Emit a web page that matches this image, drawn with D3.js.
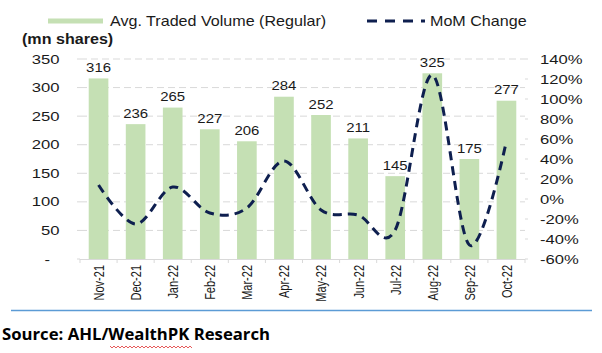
<!DOCTYPE html>
<html><head><meta charset="utf-8">
<script src="https://cdn.jsdelivr.net/npm/d3@7"></script>
<style>body{margin:0;background:#fff;}svg{display:block;}</style>
</head><body>
<svg id="c" width="602" height="353"></svg>
<script>
const months = ["Nov-21","Dec-21","Jan-22","Feb-22","Mar-22","Apr-22","May-22","Jun-22","Jul-22","Aug-22","Sep-22","Oct-22"];
const volume = [316,236,265,227,206,284,252,211,145,325,175,277];
const momChange = [14,-25,12,-14,-9,38,-11,-16,-31,124,-46,58];
const leftTicks = [0,50,100,150,200,250,300,350];
const rightTicks = [-60,-40,-20,0,20,40,60,80,100,120,140];
const legendLabels = ["Avg. Traded Volume (Regular)","MoM Change"];
const unitLabel = "(mn shares)";
const sourceLabel = "Source: AHL/WealthPK Research";

const FONT = "'Liberation Sans', Arial, sans-serif";
const svg = d3.select("#c");
const L = 80, R = 525, T = 59, B = 259;

const x = d3.scaleBand().domain(months).range([L, R]).paddingInner(0.47).paddingOuter(0.235);
const xb = d3.scaleBand().domain(months).range([L, R]);
const yL = d3.scaleLinear().domain([0, 350]).range([B, T]);
const yR = d3.scaleLinear().domain([-60, 140]).range([B, T]);

function txt(g, px, py, s, o) {
  o = o || {};
  const t = g.append("text")
    .attr("transform", `translate(${px},${py}) scale(${o.sx || 1},1)` + (o.rot ? ` rotate(${o.rot})` : ""))
    .attr("font-family", o.family || FONT)
    .attr("font-size", o.size || 12)
    .attr("font-weight", o.weight || "normal")
    .attr("fill", o.fill || "#1a1a1a")
    .attr("text-anchor", o.anchor || "start")
    .attr("dy", o.dy || "0.35em")
    .text(s);
  return t;
}

// gridlines
svg.append("g").selectAll("line").data(leftTicks.filter(d => d > 0)).join("line")
  .attr("x1", L).attr("x2", R).attr("y1", d => yL(d)).attr("y2", d => yL(d))
  .attr("stroke", "#d9d9d9").attr("stroke-width", 1).attr("stroke-dasharray", "7,4");

// left ticks & labels
const gl = svg.append("g");
gl.selectAll("line").data(leftTicks).join("line")
  .attr("x1", L - 3).attr("x2", L).attr("y1", d => yL(d)).attr("y2", d => yL(d))
  .attr("stroke", "#d9d9d9");
leftTicks.forEach(d => {
  if (d === 0) txt(gl, 50, yL(d), "-", {anchor: "end", sx: 1.28, size: 13});
  else txt(gl, 59.5, yL(d), String(d), {anchor: "end", sx: 1.28, size: 13});
});

// right ticks & labels
const gr = svg.append("g");
gr.selectAll("line").data(rightTicks).join("line")
  .attr("x1", R).attr("x2", R + 3).attr("y1", d => yR(d)).attr("y2", d => yR(d))
  .attr("stroke", "#d9d9d9");
rightTicks.forEach(d => txt(gr, 540, yR(d), d + "%", {sx: 1.28, size: 13}));

// bars
svg.append("g").selectAll("rect").data(months).join("rect")
  .attr("x", d => x(d)).attr("width", x.bandwidth())
  .attr("y", (d, i) => yL(volume[i])).attr("height", (d, i) => B - yL(volume[i]))
  .attr("fill", "#c5e0b4");

// x axis
const gx = svg.append("g");
gx.append("line").attr("x1", L).attr("x2", R).attr("y1", B + 0.5).attr("y2", B + 0.5).attr("stroke", "#d9d9d9");
gx.selectAll("line.tk").data(months.concat(["__end"])).join("line").attr("class", "tk")
  .attr("x1", (d, i) => i < months.length ? xb(d) : R).attr("x2", (d, i) => i < months.length ? xb(d) : R)
  .attr("y1", B).attr("y2", B + 4).attr("stroke", "#d9d9d9");
months.forEach(m => txt(gx, xb(m) + xb.bandwidth() / 2, 265, m, {anchor: "end", rot: -90, sx: 1.4, size: 11}));

// data labels
const gd = svg.append("g");
months.forEach((m, i) => txt(gd, x(m) + x.bandwidth() / 2, yL(volume[i]) - 11, String(volume[i]), {anchor: "middle", sx: 1.15, size: 13}));

// line
const line = d3.line()
  .x((d, i) => x(months[i]) + x.bandwidth() / 2)
  .y(d => yR(d))
  .curve(d3.curveCardinal.tension(0));
svg.append("path").datum(momChange).attr("d", line)
  .attr("fill", "none").attr("stroke", "#0e1f4f").attr("stroke-width", 3)
  .attr("stroke-dasharray", "9,6");

// legend
const lg = svg.append("g");
const ly = 21;
lg.append("rect").attr("x", 48).attr("y", ly - 2.5).attr("width", 55).attr("height", 5).attr("fill", "#c5e0b4");
txt(lg, 110, ly, legendLabels[0], {size: 14, sx: 1.15});
lg.append("line").attr("x1", 367).attr("x2", 425).attr("y1", ly).attr("y2", ly)
  .attr("stroke", "#0e1f4f").attr("stroke-width", 3).attr("stroke-dasharray", "10,8");
txt(lg, 430, ly, legendLabels[1], {size: 14, sx: 1.15});
txt(lg, 22, 39, unitLabel, {size: 14, sx: 1.15, weight: "bold"});

// footer
svg.append("line").attr("x1", 11).attr("x2", 592).attr("y1", 310.5).attr("y2", 310.5)
  .attr("stroke", "#5b9bd5").attr("stroke-width", 1.5);
svg.append("text").attr("x", 2).attr("y", 340)
  .attr("font-family", "'Open Sans', 'Liberation Sans', sans-serif").attr("font-weight", "bold")
  .attr("font-size", 16).attr("fill", "#000")
  .attr("textLength", 268).attr("lengthAdjust", "spacingAndGlyphs")
  .text(sourceLabel);
// spell-check squiggle under "WealthPK"
let sq = "M110,346";
for (let xx = 110, k = 0; xx < 192; xx += 2, k++) sq += `L${xx + 2},${k % 2 ? 346 : 348}`;
svg.append("path").attr("d", sq).attr("fill", "none").attr("stroke", "#e03030").attr("stroke-width", 0.8);
</script>
</body></html>
